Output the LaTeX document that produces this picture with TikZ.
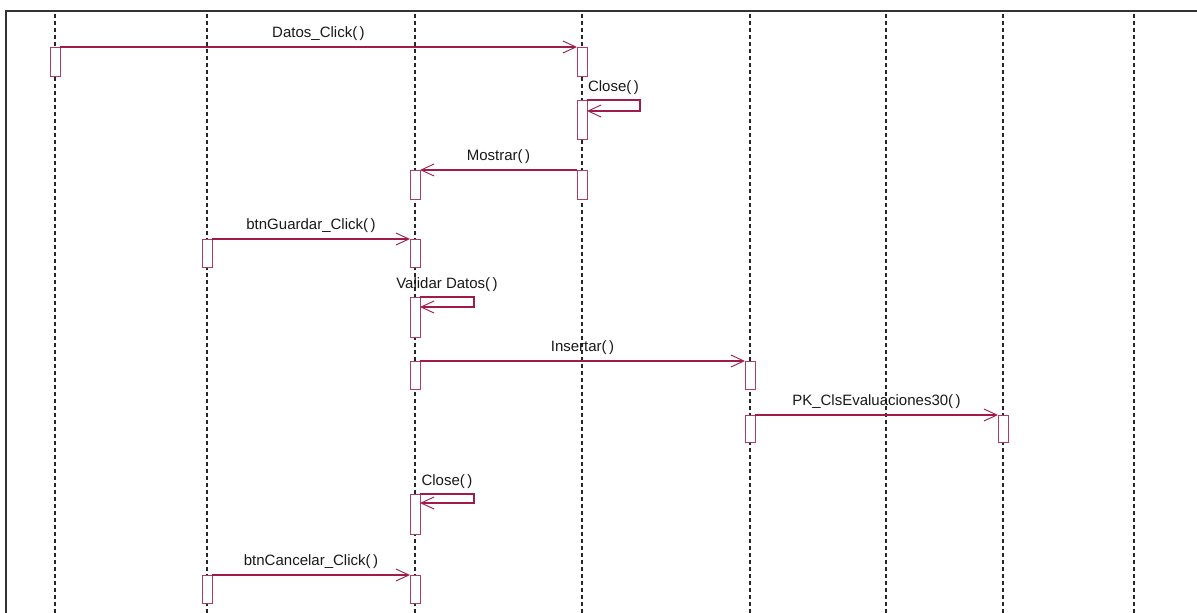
\documentclass[tikz,border=0pt]{standalone}
\usepackage{fontspec}
\setmainfont{Liberation Sans}
\usetikzlibrary{arrows.meta}
\definecolor{msgred}{RGB}{160,26,74}
\definecolor{framegray}{RGB}{51,51,51}
\begin{document}
\begin{tikzpicture}[x=1pt,y=-1pt,
  frame/.style={draw=framegray,line width=1.3pt},
  lifeline/.style={draw=black!85,line width=1.1pt,dash pattern=on 4pt off 3pt},
  act/.style={draw=msgred!85,fill=white,line width=0.9pt,minimum width=10pt,inner sep=0pt,outer sep=0pt,anchor=north},
  msg/.style={draw=msgred,line width=1.2pt,-{Straight Barb[length=13pt,width=12pt,line width=0.9pt]}},
  lbl/.style={font=\fontsize{15}{17}\selectfont,text=black!90,anchor=base,inner sep=0pt,yshift=10pt},
  slbl/.style={lbl,yshift=-1pt}]
\useasboundingbox (0,0) rectangle (1197,613);
\fill[white] (0,0) rectangle (1197,613);
% frame
\draw[frame] (6,613) -- (6,11) -- (1197,11);
% lifelines
\foreach \n/\x in {1/55,2/207,3/415,4/582,5/750,6/886,7/1003,8/1134}{
  \coordinate (L\n) at (\x,14);
  \coordinate (E\n) at (\x,613);
  \draw[lifeline] (L\n) -- (E\n);
}
% activation boxes: name / x / top / bottom
\foreach \nm/\x/\t/\b in {A1/55/47/76, B1/582/47/76, B2/582/100/139, B3/582/170/199,
  C3/415/170/199, D4/207/239/267, C4/415/239/267, C5/415/297/337, C6/415/361/389,
  E6/750/361/389, E7/750/415/442, F7/1003/415/442, C8/415/494/534, D9/207/575/603,
  C9/415/575/603}{
  \pgfmathsetmacro{\h}{\b-\t}
  \node[act,minimum height=\h pt] (\nm) at (\x,\t) {};
}
% messages
\draw[msg] (A1.north east) -- node[lbl]{Datos\_Click(\,)} (B1.north west);
\draw[msg] (B2.north east) -- node[slbl]{Close(\,)} ++(53,0) |- ([yshift=-11pt]B2.north east);
\draw[msg] (B3.north west) -- node[lbl]{Mostrar(\,)} (C3.north east);
\draw[msg] (D4.north east) -- node[lbl]{btnGuardar\_Click(\,)} (C4.north west);
\draw[msg] (C5.north east) -- node[slbl]{Validar Datos(\,)} ++(54,0) |- ([yshift=-10pt]C5.north east);
\draw[msg] (C6.north east) -- node[lbl]{Insertar(\,)} (E6.north west);
\draw[msg] (E7.north east) -- node[lbl]{PK\_ClsEvaluaciones30(\,)} (F7.north west);
\draw[msg] (C8.north east) -- node[slbl]{Close(\,)} ++(54,0) |- ([yshift=-9pt]C8.north east);
\draw[msg] (D9.north east) -- node[lbl]{btnCancelar\_Click(\,)} (C9.north west);
\end{tikzpicture}
\end{document}
